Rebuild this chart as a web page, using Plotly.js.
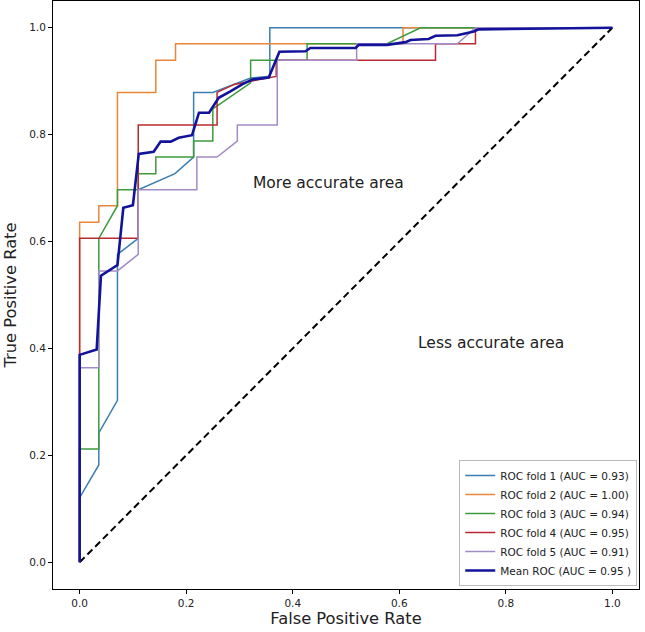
<!DOCTYPE html>
<html>
<head>
<meta charset="utf-8">
<script src="https://cdn.plot.ly/plotly-3.0.1.min.js"></script>
<style>html,body{margin:0;padding:0;background:#fff;}#chart{width:645px;height:632px;}</style>
</head>
<body>
<div id="chart"></div>
<script>
// ROC fold data
const fold1X = [0, 0, 0.036, 0.036, 0.071, 0.071, 0.11, 0.11, 0.179, 0.214, 0.214, 0.25, 0.321, 0.357, 0.357, 1];
const fold1Y = [0, 0.121, 0.182, 0.242, 0.303, 0.576, 0.606, 0.697, 0.727, 0.758, 0.879, 0.879, 0.906, 0.909, 1, 1];

const fold2X = [0, 0, 0.036, 0.036, 0.071, 0.071, 0.143, 0.143, 0.18, 0.18, 0.607, 0.607, 1];
const fold2Y = [0, 0.636, 0.636, 0.667, 0.667, 0.879, 0.879, 0.939, 0.939, 0.97, 0.97, 1, 1];

const fold3X = [0, 0, 0.036, 0.036, 0.071, 0.071, 0.11, 0.11, 0.143, 0.143, 0.214, 0.214, 0.25, 0.25, 0.321, 0.321, 0.357, 0.427, 0.427, 0.577, 0.64, 1];
const fold3Y = [0, 0.212, 0.212, 0.606, 0.667, 0.697, 0.697, 0.727, 0.727, 0.758, 0.758, 0.788, 0.788, 0.848, 0.897, 0.939, 0.939, 0.939, 0.97, 0.97, 1, 1];

const fold4X = [0, 0, 0.11, 0.11, 0.258, 0.258, 0.29, 0.369, 0.369, 0.668, 0.668, 0.743, 0.743, 1];
const fold4Y = [0, 0.606, 0.606, 0.818, 0.818, 0.879, 0.894, 0.909, 0.939, 0.939, 0.97, 0.97, 1, 1];

const fold5X = [0, 0, 0.036, 0.036, 0.071, 0.11, 0.11, 0.22, 0.22, 0.258, 0.296, 0.296, 0.371, 0.371, 0.52, 0.52, 0.709, 0.743, 1];
const fold5Y = [0, 0.364, 0.364, 0.545, 0.545, 0.576, 0.697, 0.697, 0.758, 0.758, 0.788, 0.818, 0.818, 0.939, 0.939, 0.97, 0.97, 1, 1];

const meanX = [0, 0, 0.032, 0.04, 0.071, 0.082, 0.10, 0.111, 0.139, 0.152, 0.171, 0.186, 0.211, 0.224, 0.243, 0.261, 0.283, 0.305, 0.324, 0.355, 0.375, 0.424, 0.433, 0.518, 0.524, 0.577, 0.612, 0.621, 0.655, 0.668, 0.709, 0.74, 0.749, 1];
const meanY = [0, 0.388, 0.398, 0.536, 0.556, 0.663, 0.668, 0.764, 0.768, 0.787, 0.787, 0.794, 0.799, 0.841, 0.841, 0.869, 0.881, 0.894, 0.903, 0.907, 0.955, 0.956, 0.962, 0.962, 0.968, 0.968, 0.973, 0.977, 0.979, 0.985, 0.986, 0.993, 0.997, 1];

const chanceX = [0, 1];
const chanceY = [0, 1];

const seriesNames = ["ROC fold 1 (AUC = 0.93)", "ROC fold 2 (AUC = 1.00)", "ROC fold 3 (AUC = 0.94)", "ROC fold 4 (AUC = 0.95)", "ROC fold 5 (AUC = 0.91)", "Mean ROC (AUC = 0.95 )"];
const tickVals = [0, 0.2, 0.4, 0.6, 0.8, 1.0];
const tickText = ["0.0", "0.2", "0.4", "0.6", "0.8", "1.0"];
const annotTexts = ["More accurate area", "Less accurate area"];
const annotX = [0.467, 0.773];
const annotY = [0.71, 0.411];

const colors = ["#3b7fb2", "#e8863a", "#3d9a3d", "#b82a30", "#a28bc6", "#12139a"];
const xs = [fold1X, fold2X, fold3X, fold4X, fold5X, meanX];
const ys = [fold1Y, fold2Y, fold3Y, fold4Y, fold5Y, meanY];

const traces = [];
traces.push({x: chanceX, y: chanceY, mode: 'lines', line: {color: '#000', width: 2, dash: '7px,4px'}, showlegend: false, hoverinfo: 'skip'});
for (let i = 0; i < 6; i++) {
  traces.push({
    x: xs[i], y: ys[i], mode: 'lines', name: seriesNames[i],
    line: {color: colors[i], width: i === 5 ? 2.6 : 1.5}
  });
}

const axisBase = {
  range: [-0.05, 1.05], tickvals: tickVals, ticktext: tickText,
  showgrid: false, zeroline: false, showline: true, linecolor: '#000', linewidth: 1,
  mirror: true, ticks: 'outside', ticklen: 4, tickcolor: '#000', tickwidth: 1,
  tickfont: {family: 'DejaVu Sans', size: 10.5, color: '#222'}
};

const layout = {
  width: 645, height: 632,
  margin: {l: 53, r: 6, t: 1, b: 43},
  paper_bgcolor: '#fff', plot_bgcolor: '#fff',
  xaxis: Object.assign({}, axisBase, {title: {text: 'False Positive Rate', font: {family: 'DejaVu Sans', size: 16.3, color: '#222'}, standoff: 4}}),
  yaxis: Object.assign({}, axisBase, {title: {text: 'True Positive Rate', font: {family: 'DejaVu Sans', size: 16.3, color: '#222'}, standoff: 8}}),
  legend: {
    x: 0.997, y: 0.005, xanchor: 'right', yanchor: 'bottom',
    bgcolor: '#fff', bordercolor: '#bbb', borderwidth: 1,
    font: {family: 'DejaVu Sans', size: 10.5, color: '#222'},
    itemwidth: 30, tracegroupgap: 0
  },
  annotations: annotTexts.map((t, i) => ({
    x: annotX[i], y: annotY[i], xref: 'x', yref: 'y', text: t, showarrow: false,
    font: {family: 'DejaVu Sans', size: 15.5, color: '#222'}
  })),
  showlegend: true
};

Plotly.newPlot('chart', traces, layout, {displayModeBar: false, staticPlot: true});
</script>
</body>
</html>
